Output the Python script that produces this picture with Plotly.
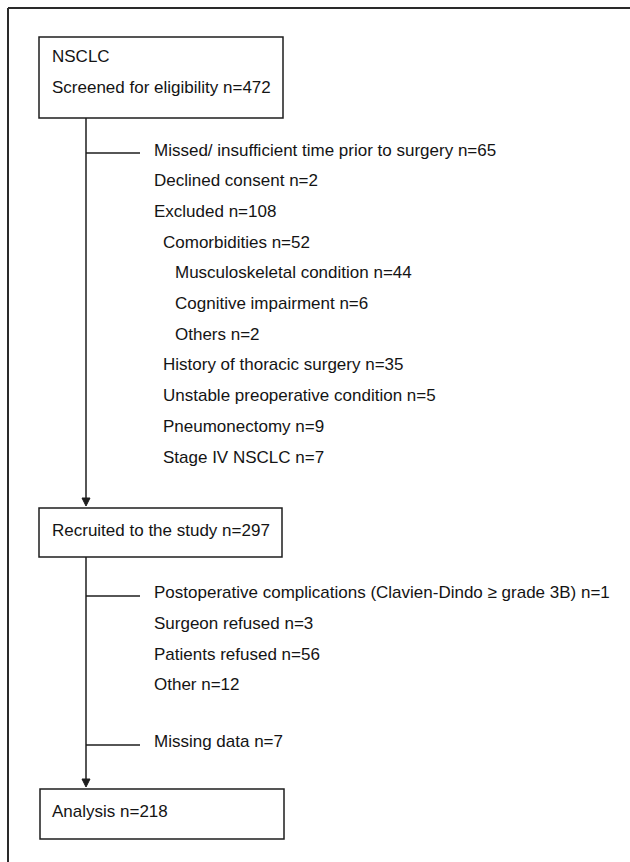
import plotly.graph_objects as go

# ---- data ----
box_texts = [
    ["NSCLC", "Screened for eligibility n=472"],
    ["Recruited to the study n=297"],
    ["Analysis n=218"],
]
excl1_labels = [
    "Missed/ insufficient time prior to surgery", "Declined consent", "Excluded",
    "Comorbidities", "Musculoskeletal condition", "Cognitive impairment", "Others",
    "History of thoracic surgery", "Unstable preoperative condition",
    "Pneumonectomy", "Stage IV NSCLC",
]
excl1_n = [65, 2, 108, 52, 44, 6, 2, 35, 5, 9, 7]
excl1_level = [0, 0, 0, 1, 2, 2, 2, 1, 1, 1, 1]
excl2_labels = ["Postoperative complications (Clavien-Dindo \u2265 grade 3B)",
                "Surgeon refused", "Patients refused", "Other"]
excl2_n = [1, 3, 56, 12]
excl3_labels = ["Missing data"]
excl3_n = [7]

# ---- layout constants ----
W, H = 630, 862
FONT = "Arial, Liberation Sans, sans-serif"
FS = 17
LC = "#1e1e1e"
TC = "#141414"
boxes = [(39, 37, 283, 118), (39, 508, 282, 557), (40, 789, 284, 839)]
spine_x = 86
indent_x = [152, 161, 173]
row_h = 30.7

fig = go.Figure()
fig.add_trace(go.Scatter(x=[0, W], y=[0, H], mode="markers",
                         marker=dict(opacity=0), hoverinfo="skip", showlegend=False))

shapes = []
ann = []

def line(x0, y0, x1, y1, w=1.5, c=LC):
    shapes.append(dict(type="line", x0=x0, y0=y0, x1=x1, y1=y1, xref="x", yref="y",
                       line=dict(color=c, width=w)))

def text(x, y, s):
    ann.append(dict(x=x, y=y, xref="x", yref="y", text=s, showarrow=False,
                    xanchor="left", yanchor="middle",
                    font=dict(family=FONT, size=FS, color=TC)))

def arrowhead(x, ytip, w=8, h=8):
    shapes.append(dict(type="path", xref="x", yref="y",
                       path=f"M {x-w/2},{ytip-h} L {x+w/2},{ytip-h} L {x},{ytip} Z",
                       fillcolor=LC, line=dict(color=LC, width=1)))

# outer frame
line(8, 8, W + 5, 8, w=2, c="#2a2a2a")
line(8, 8, 8, H + 5, w=2, c="#2a2a2a")

# boxes
for (x0, y0, x1, y1) in boxes:
    shapes.append(dict(type="rect", x0=x0, y0=y0, x1=x1, y1=y1, xref="x", yref="y",
                       line=dict(color=LC, width=1.5), fillcolor="rgba(0,0,0,0)"))

# box texts
text(50, 56, box_texts[0][0])
text(50, 87, box_texts[0][1])
text(50, 530, box_texts[1][0])
text(50, 811, box_texts[2][0])

# spines with arrows
line(spine_x, boxes[0][3], spine_x, boxes[1][1] - 4)
arrowhead(spine_x, boxes[1][1] - 2)
line(spine_x, boxes[1][3], spine_x, boxes[2][1] - 4)
arrowhead(spine_x, boxes[2][1] - 2)

# exclusion group 1
y0 = 150
line(spine_x, y0 + 3, 140, y0 + 3)
for i, (lab, n, lv) in enumerate(zip(excl1_labels, excl1_n, excl1_level)):
    text(indent_x[lv], y0 + i * row_h, f"{lab} n={n}")

# exclusion group 2
y1 = 592.7
line(spine_x, y1 + 3.3, 140, y1 + 3.3)
for i, (lab, n) in enumerate(zip(excl2_labels, excl2_n)):
    text(indent_x[0], y1 + i * row_h, f"{lab} n={n}")

# exclusion group 3
y2 = 741.5
line(spine_x, y2 + 3.5, 140, y2 + 3.5)
for i, (lab, n) in enumerate(zip(excl3_labels, excl3_n)):
    text(indent_x[0], y2 + i * row_h, f"{lab} n={n}")

fig.update_layout(
    width=W, height=H, margin=dict(l=0, r=0, t=0, b=0),
    paper_bgcolor="white", plot_bgcolor="white",
    xaxis=dict(range=[0, W], visible=False, fixedrange=True, showline=False, zeroline=False),
    yaxis=dict(range=[H, 0], visible=False, fixedrange=True, showline=False, zeroline=False),
    shapes=shapes, annotations=ann, showlegend=False,
)
fig.write_html("out.html", config={"displayModeBar": False},
               post_script="document.body.style.margin='0';document.body.style.overflow='hidden';")
